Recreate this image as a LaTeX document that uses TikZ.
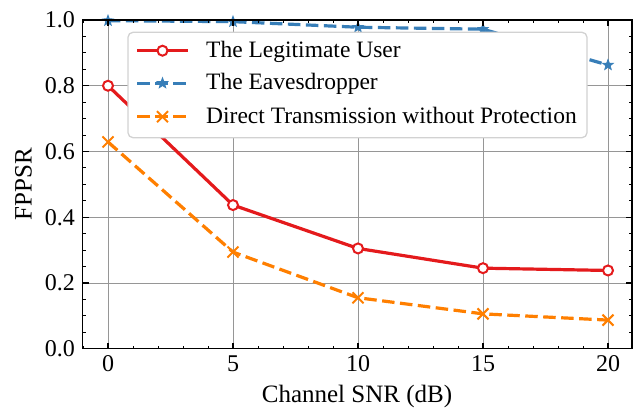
\documentclass[tikz,border=0pt]{standalone}
\usepackage{fontspec}
\setmainfont{Liberation Serif}
\usetikzlibrary{shapes.geometric,shapes.misc,calc}
\definecolor{cred}{RGB}{228,26,28}
\definecolor{cblue}{RGB}{55,126,184}
\definecolor{corange}{RGB}{255,127,0}
\definecolor{gridgray}{RGB}{150,150,150}
\definecolor{legendedge}{RGB}{210,210,210}

\tikzset{
  gridline/.style={draw=gridgray, line width=0.9pt},
  frame/.style={draw=black, line width=1.3pt},
  majortick/.style={draw=black, line width=1.2pt},
  minortick/.style={draw=black, line width=0.9pt},
  ticklabel/.style={inner sep=0pt, font=\fontsize{24}{28}\selectfont},
  axislabel/.style={inner sep=0pt, font=\fontsize{25}{30}\selectfont},
  legitline/.style={draw=cred, line width=3.2pt},
  eavesline/.style={draw=cblue, line width=3.2pt, dash pattern=on 12.5pt off 5.5pt},
  directline/.style={draw=corange, line width=3.2pt, dash pattern=on 12.5pt off 5.5pt},
  circmark/.style={circle, draw=cred, fill=white, line width=2pt, minimum size=10pt, inner sep=0pt},
  starmark/.style={star, star points=5, star point ratio=2.4, draw=cblue, fill=cblue, line width=0.8pt, minimum size=11pt, inner sep=0pt},
  crossmark/.style={cross out, draw=corange, line width=2pt, minimum size=9pt, inner sep=0pt},
  legendbox/.style={draw=legendedge, fill=white, line width=1.3pt, rounded corners=5pt},
  legendtext/.style={anchor=base west, inner sep=0pt, font=\fontsize{23.5}{28}\selectfont},
}

\begin{document}
\begin{tikzpicture}[x=1pt, y=1pt]
\useasboundingbox (0,0) rectangle (633,408);

\begin{scope}[shift={(108,59.3)}, x=25pt, y=328.7pt]
  % grid at the major ticks
  \foreach \gx in {0,5,10,15,20}
    \draw[gridline] (\gx,0) -- (\gx,1);
  \foreach \gy in {0.2,0.4,0.6,0.8}
    \draw[gridline] (-1.02,\gy) -- (20.96,\gy);

  % the legitimate user
  \foreach \n/\px/\py in {l0/0/0.800, l1/5/0.437, l2/10/0.305, l3/15/0.245, l4/20/0.238}
    \coordinate (\n) at (\px,\py);
  \draw[legitline] (l0) -- (l1) -- (l2) -- (l3) -- (l4);

  % the eavesdropper
  \foreach \n/\px/\py in {e0/0/0.998, e1/5/0.995, e2/10/0.978, e3/15/0.972, e4/20/0.863}
    \coordinate (\n) at (\px,\py);
  \draw[eavesline] (e0) -- (e1) -- (e2) -- (e3) -- (e4);

  % direct transmission without protection
  \foreach \n/\px/\py in {d0/0/0.629, d1/5/0.294, d2/10/0.155, d3/15/0.106, d4/20/0.087}
    \coordinate (\n) at (\px,\py);
  \draw[directline] (d0) -- (d1) -- (d2) -- (d3) -- (d4);

  % markers
  \foreach \n in {l0,l1,l2,l3,l4} \node[circmark] at (\n) {};
  \foreach \n in {e0,e1,e2,e3,e4} \node[starmark] at (\n) {};
  \foreach \n in {d0,d1,d2,d3,d4} \node[crossmark] at (\n) {};

  % axes frame
  \draw[frame] (-1.02,0) rectangle (20.96,1);

  % x ticks (inward, bottom and top)
  \foreach \tx in {0,5,10,15,20} {
    \draw[majortick] (\tx,0) -- ++(0,6pt);
    \draw[majortick] (\tx,1) -- ++(0,-6pt);
    \node[ticklabel, anchor=north] at ([yshift=-7pt]\tx,0) {\tx};
  }
  \foreach \tx in {-1,1,2,3,4,6,7,8,9,11,12,13,14,16,17,18,19} {
    \draw[minortick] (\tx,0) -- ++(0,3pt);
    \draw[minortick] (\tx,1) -- ++(0,-3pt);
  }

  % y ticks (inward, left and right)
  \foreach \ty in {0.0,0.2,0.4,0.6,0.8,1.0} {
    \draw[majortick] (-1.02,\ty) -- ++(6pt,0);
    \draw[majortick] (20.96,\ty) -- ++(-6pt,0);
    \node[ticklabel, anchor=east] at ([xshift=-7.5pt]-1.02,\ty) {\ty};
  }
  \foreach \ty in {0.05,0.1,0.15,0.25,0.3,0.35,0.45,0.5,0.55,0.65,0.7,0.75,0.85,0.9,0.95} {
    \draw[minortick] (-1.02,\ty) -- ++(3pt,0);
    \draw[minortick] (20.96,\ty) -- ++(-3pt,0);
  }
\end{scope}

% axis titles
\node[axislabel, anchor=base] (xlabel) at (357,5.7) {Channel SNR (dB)};
\node[axislabel, anchor=base, rotate=90] (ylabel) at (31.7,223.6) {FPPSR};

% legend
\draw[legendbox] (128,375.7) rectangle (587,270.3);
\coordinate (la) at (137,357.3); \coordinate (lb) at (188,357.3);
\draw[legitline] (la) -- (lb);
\node[circmark] at ($(la)!0.5!(lb)$) {};
\node[legendtext] (t1) at (206,350.7) {The Legitimate User};

\coordinate (ea) at (137,324.7); \coordinate (eb) at (188,324.7);
\draw[eavesline] (ea) -- (eb);
\node[starmark] at ($(ea)!0.5!(eb)$) {};
\node[legendtext] (t2) at (206,318.1) {The Eavesdropper};

\coordinate (da) at (137,291.3); \coordinate (db) at (188,291.3);
\draw[directline] (da) -- (db);
\node[crossmark] at ($(da)!0.5!(db)$) {};
\node[legendtext] (t3) at (206,284.7) {Direct Transmission without Protection};
\end{tikzpicture}
\end{document}
